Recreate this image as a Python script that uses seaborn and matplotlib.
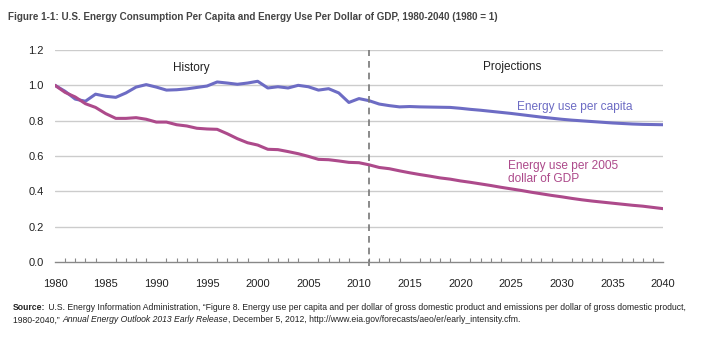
import numpy as np
import pandas as pd
import matplotlib
matplotlib.use("Agg")
import matplotlib.pyplot as plt
from matplotlib.ticker import MultipleLocator
from matplotlib import font_manager
import seaborn as sns

years = list(range(1980, 2041))
per_capita = [1.000, 0.966, 0.922, 0.910, 0.950, 0.938, 0.932, 0.957, 0.990, 1.004,
              0.990, 0.973, 0.975, 0.980, 0.988, 0.996, 1.019, 1.013, 1.006, 1.013,
              1.023, 0.985, 0.992, 0.985, 1.000, 0.992, 0.973, 0.981, 0.957, 0.903,
              0.925, 0.913, 0.894, 0.885, 0.878, 0.880, 0.878, 0.877, 0.876, 0.875,
              0.870, 0.864, 0.859, 0.853, 0.847, 0.841, 0.834, 0.827, 0.820, 0.814,
              0.808, 0.803, 0.799, 0.795, 0.791, 0.787, 0.784, 0.781, 0.779, 0.778,
              0.777]
per_gdp = [1.000, 0.960, 0.934, 0.896, 0.875, 0.840, 0.813, 0.813, 0.817, 0.808,
           0.792, 0.792, 0.777, 0.770, 0.757, 0.753, 0.751, 0.726, 0.698, 0.675,
           0.662, 0.638, 0.636, 0.625, 0.613, 0.598, 0.581, 0.579, 0.572, 0.564,
           0.562, 0.550, 0.535, 0.528, 0.516, 0.505, 0.495, 0.486, 0.476, 0.469,
           0.459, 0.451, 0.442, 0.433, 0.423, 0.414, 0.405, 0.395, 0.386, 0.377,
           0.369, 0.360, 0.352, 0.345, 0.339, 0.333, 0.327, 0.321, 0.316, 0.309,
           0.302]
series_names = ["Energy use per capita", "Energy use per 2005\ndollar of GDP"]
divider_year = 2011
y_ticks = [0.0, 0.2, 0.4, 0.6, 0.8, 1.0, 1.2]
x_ticks = list(range(1980, 2041, 5))

title = "Figure 1-1: U.S. Energy Consumption Per Capita and Energy Use Per Dollar of GDP, 1980-2040 (1980 = 1)"

sns.set_theme(style="white")
plt.rcParams['font.family'] = ['Liberation Sans', 'DejaVu Sans']

installed = {f.name for f in font_manager.fontManager.ttflist}
narrow = 'Liberation Sans Narrow' in installed

df = pd.DataFrame({
    "year": years * 2,
    "value": per_capita + per_gdp,
    "series": [series_names[0]] * len(years) + [series_names[1]] * len(years),
})

blue = "#6d6cc4"
mag = "#ad4a8b"
fig = plt.figure(figsize=(7.01, 3.45), dpi=100)
ax = fig.add_axes([55 / 701, 1 - 262 / 345, (663 - 55) / 701, (262 - 50) / 345])

sns.lineplot(data=df, x="year", y="value", hue="series",
             palette={series_names[0]: blue, series_names[1]: mag},
             linewidth=2.2, ax=ax, legend=False)

ax.set_xlim(1980, 2040)
ax.set_ylim(0, 1.2)
ax.set_xticks(x_ticks)
ax.xaxis.set_minor_locator(MultipleLocator(1))
ax.set_yticks(y_ticks)
ax.set_yticklabels([f"{v:.1f}" for v in y_ticks])
ax.set_xlabel("")
ax.set_ylabel("")
for v in y_ticks[1:]:
    ax.axhline(v, color="#cccccc", linewidth=1.0, zorder=0)
for s in ["top", "right", "left"]:
    ax.spines[s].set_visible(False)
ax.spines["bottom"].set_color("#888888")
ax.spines["bottom"].set_linewidth(1.0)
ax.tick_params(axis="x", which="major", direction="inout", length=7, width=1,
               color="#888888", labelsize=8, labelcolor="#222222", pad=8.5)
ax.tick_params(axis="x", which="minor", direction="in", length=3, width=0.8,
               color="#888888", bottom=True)
ax.tick_params(axis="y", which="major", length=0, labelsize=8, labelcolor="#222222", pad=8)

ax.axvline(divider_year, ymin=-0.02, ymax=1.0, color="#777777", linestyle=(0, (4, 3)),
           linewidth=1.2, clip_on=False)

ax.text(1993.5, 1.1, "History", fontsize=8.5, color="#222222", ha="center", va="center")
ax.text(2025.1, 1.104, "Projections", fontsize=8.5, color="#222222", ha="center", va="center")
ax.text(2025.6, 0.879, series_names[0], fontsize=8.6, color=blue, ha="left", va="center")
ax.text(2024.7, 0.505, series_names[1], fontsize=8.6, color=mag, ha="left", va="center",
        linespacing=1.15)

title_font = ['Liberation Sans Narrow', 'Liberation Sans', 'DejaVu Sans'] if narrow else ['Liberation Sans', 'DejaVu Sans']
title_size = 9.0 if narrow else 7.15
fig.text(8 / 701, 1 - 17 / 345, title, fontsize=title_size, fontweight="bold", color="#444444",
         ha="left", va="center", family=title_font)

# Source note with mixed styles
fig.canvas.draw()
renderer = fig.canvas.get_renderer()
src_font = ['Liberation Sans Narrow', 'Liberation Sans', 'DejaVu Sans']
fs = 7.0 if narrow else 6.2

def pieces(parts, x0, y0):
    x = x0
    for txt, style in parts:
        kw = dict(fontsize=fs, color="#222222", family=src_font, ha="left", va="center")
        if style == "b":
            kw["fontweight"] = "bold"
        elif style == "i":
            kw["fontstyle"] = "italic"
        t = fig.text(x / 701, 1 - y0 / 345, txt, **kw)
        bb = t.get_window_extent(renderer=renderer)
        x += bb.width

pieces([("Source:", "b"),
        (" U.S. Energy Information Administration, \u201cFigure 8. Energy use per capita and per dollar of gross domestic product and emissions per dollar of gross domestic product,", "")],
       13, 308)
pieces([("1980-2040,\u201d ", ""),
        ("Annual Energy Outlook 2013 Early Release", "i"),
        (", December 5, 2012, http://www.eia.gov/forecasts/aeo/er/early_intensity.cfm.", "")],
       13, 320)

fig.savefig("out.png", dpi=100)
